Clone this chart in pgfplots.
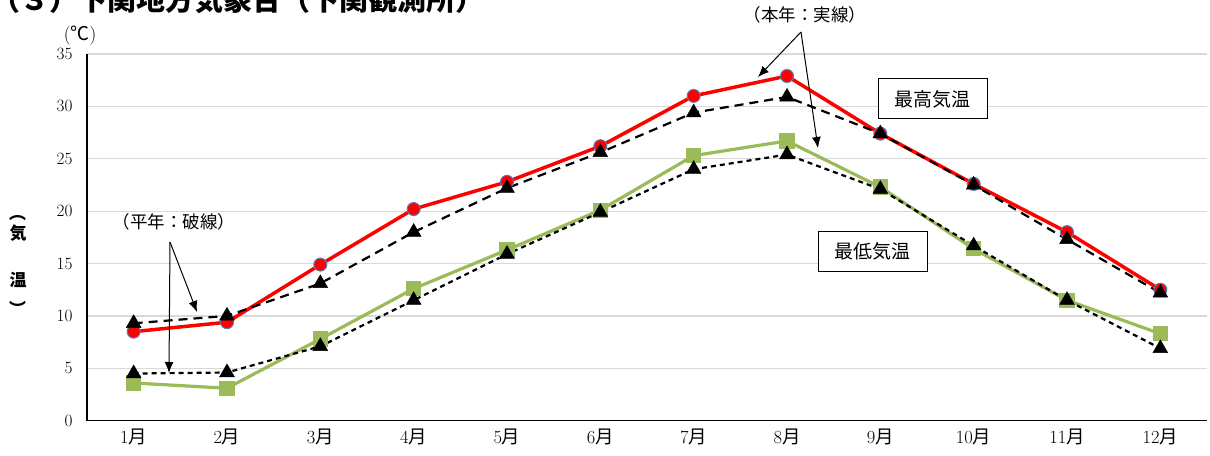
\documentclass[border=0pt]{standalone}
\usepackage{fontspec}
\usepackage{pgfplots}
\pgfplotsset{compat=1.18}
\usetikzlibrary{arrows.meta}
\newfontfamily\cjk{Noto Sans CJK JP}
\definecolor{maxred}{RGB}{255,0,0}
\definecolor{mingreen}{RGB}{155,187,89}
\definecolor{edgeblue}{RGB}{79,129,189}
\definecolor{gridgray}{RGB}{217,217,217}

\pgfplotstableread{
m  tmax tmaxn tmin tminn
1  8.5  9.3   3.6  4.5
2  9.4  10.0  3.1  4.6
3  14.9 13.1  7.8  7.1
4  20.2 18.0  12.6 11.5
5  22.8 22.2  16.3 15.9
6  26.2 25.6  20.1 19.9
7  31.0 29.4  25.3 24.0
8  32.9 30.9  26.7 25.4
9  27.4 27.4  22.3 22.1
10 22.6 22.5  16.4 16.7
11 18.0 17.3  11.5 11.5
12 12.5 12.2  8.3  6.9
}\temps

\begin{document}
\begin{tikzpicture}
\path[use as bounding box] (0,0) rectangle (1210bp,456bp);
\begin{axis}[
    at={(87bp,35.3bp)}, anchor=south west,
    width=1120bp, height=366.7bp, scale only axis,
    xmin=0.5, xmax=12.5, ymin=0, ymax=35,
    axis x line*=bottom, axis y line*=left,
    axis line style={line width=1.3bp, -},
    xtick={1,...,12},
    xticklabels={1{\cjk 月},2{\cjk 月},3{\cjk 月},4{\cjk 月},5{\cjk 月},6{\cjk 月},7{\cjk 月},8{\cjk 月},9{\cjk 月},10{\cjk 月},11{\cjk 月},12{\cjk 月}},
    major x tick style={draw=none},
    extra x ticks={0.5,1.5,...,12.5},
    extra x tick labels={},
    extra x tick style={major tick length=10bp, tick align=center, tick style={line width=1bp, black}},
    ytick={0,5,...,35},
    major y tick style={draw=none},
    ymajorgrids, grid style={gridgray, line width=1.3bp},
    tick label style={font=\fontsize{18.5bp}{20bp}\selectfont},
    xticklabel style={yshift=-5bp},
    yticklabel style={xshift=-11bp},
    clip=false,
]
\addplot[mingreen, line width=3.2bp, mark=square*, mark size=6bp, mark options={fill=mingreen, draw=mingreen}] table[x=m, y=tmin] {\temps};
\addplot[maxred, line width=3.5bp, mark=*, mark size=6.5bp, mark options={fill=maxred, draw=edgeblue, line width=1bp}] table[x=m, y=tmax] {\temps};
\addplot[black, line width=2.2bp, dash pattern=on 5bp off 4bp, mark=triangle*, mark size=8.5bp, mark options={solid, fill=black, line width=0.5bp}] table[x=m, y=tminn] {\temps};
\addplot[black, line width=2.2bp, dash pattern=on 9bp off 6bp, mark=triangle*, mark size=8.5bp, mark options={solid, fill=black, line width=0.5bp}] table[x=m, y=tmaxn] {\temps};
\end{axis}
\begin{scope}[x=1bp, y=1bp]
\node[anchor=west, font=\cjk\bfseries\fontsize{29bp}{30bp}\selectfont] at (-12,456) {（３）下関地方気象台（下関観測所）};
\node[font=\fontsize{19bp}{21bp}\selectfont] at (80,420) {(\cjk ℃\normalfont)};
\node[rotate=-90, font=\cjk\bfseries\fontsize{17bp}{19bp}\selectfont] at (18,243) {（};
\node[font=\cjk\bfseries\fontsize{17bp}{19bp}\selectfont] at (18,223) {気};
\node[font=\cjk\bfseries\fontsize{17bp}{19bp}\selectfont] at (18,176) {温};
\node[rotate=-90, font=\cjk\bfseries\fontsize{17bp}{19bp}\selectfont] at (18,147) {）};
\node[font=\cjk\fontsize{17.5bp}{19bp}\selectfont] at (174,234) {（平年：破線）};
\draw[line width=1bp, -{Latex[length=11bp,width=9bp]}] (170,214) -- (197,144);
\draw[line width=1bp, -{Latex[length=11bp,width=9bp]}] (170,214) -- (169,83);
\node[font=\cjk\fontsize{17.5bp}{19bp}\selectfont] at (805,441) {（本年：実線）};
\draw[line width=1bp, -{Latex[length=11bp,width=9bp]}] (801,424) -- (758,379);
\draw[line width=1bp, -{Latex[length=11bp,width=9bp]}] (801,424) -- (818,308);
\node[draw, line width=1bp, fill=white, minimum width=109bp, minimum height=40bp, font=\cjk\fontsize{19bp}{21bp}\selectfont] at (932.5,357) {最高気温};
\node[draw, line width=1bp, fill=white, minimum width=109bp, minimum height=40bp, font=\cjk\fontsize{19bp}{21bp}\selectfont] at (872.5,204.5) {最低気温};
\end{scope}
\end{tikzpicture}
\end{document}
